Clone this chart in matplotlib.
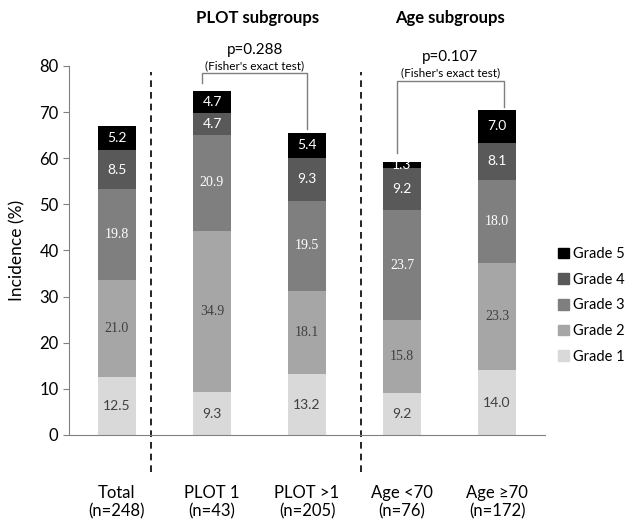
import numpy as np
import matplotlib
matplotlib.use("Agg")
import matplotlib.pyplot as plt
from matplotlib.patches import Patch

plt.rcParams['font.family'] = ['Lato', 'DejaVu Sans']

# incidence (%) by grade for each group
groups = ["Total\n(n=248)", "PLOT 1\n(n=43)", "PLOT >1\n(n=205)",
          "Age <70\n(n=76)", "Age \u226570\n(n=172)"]
grade1 = [12.5, 9.3, 13.2, 9.2, 14.0]
grade2 = [21.0, 34.9, 18.1, 15.8, 23.3]
grade3 = [19.8, 20.9, 19.5, 23.7, 18.0]
grade4 = [8.5, 4.7, 9.3, 9.2, 8.1]
grade5 = [5.2, 4.7, 5.4, 1.3, 7.0]

grade_names = ["Grade 1", "Grade 2", "Grade 3", "Grade 4", "Grade 5"]
colors = ["#d9d9d9", "#a6a6a6", "#7f7f7f", "#595959", "#000000"]
text_colors = ["#404040", "#404040", "white", "white", "white"]
label_fonts = ["Lato", "Liberation Serif", "Liberation Serif", "Lato", "Lato"]

fig = plt.figure(figsize=(6.29, 5.22), dpi=100)
ax = fig.add_axes([0.1097, 0.1667, 0.7568, 0.7069])

x = np.arange(len(groups))
bottom = np.zeros(len(groups))
for vals, name, c, tc, fnt in zip([grade1, grade2, grade3, grade4, grade5],
                                  grade_names, colors, text_colors, label_fonts):
    vals = np.array(vals)
    ax.bar(x, vals, width=0.4, bottom=bottom, color=c, linewidth=0, label=name)
    for xi, b, v in zip(x, bottom, vals):
        ax.text(xi, b + v / 2, f"{v:.1f}", ha="center", va="center",
                color=tc, fontsize=10, family=fnt)
    bottom += vals

ax.set_xlim(-0.505, 4.505)
ax.set_ylim(0, 80)
ax.set_yticks(range(0, 81, 10))
ax.set_xticks(x)
ax.set_xticklabels(groups, fontsize=12)
ax.tick_params(axis="x", length=0, pad=36)
ax.tick_params(axis="y", labelsize=12, length=4, color="#808080")
for s in ["top", "right"]:
    ax.spines[s].set_visible(False)
for s in ["left", "bottom"]:
    ax.spines[s].set_color("#808080")
ax.set_ylabel("Incidence (%)", fontsize=12.5, labelpad=10)

# group separators
for xv in [0.355, 2.565]:
    ax.plot([xv, xv], [-8, 78.7], ls=(0, (4, 3)), color="black",
            lw=1.2, clip_on=False)

# group headers
ax.text(1.48, 90.4, "PLOT subgroups", ha="center", va="center",
        fontsize=12, fontweight="bold")
ax.text(3.5, 90.4, "Age subgroups", ha="center", va="center",
        fontsize=12, fontweight="bold")

# significance brackets
def bracket(x0, x1, ytop, y0, y1, p, py):
    ax.plot([x0, x0, x1, x1], [y0, ytop, ytop, y1], color="#7f7f7f",
            lw=1, clip_on=False)
    ax.text((x0 + x1) / 2, py, p, ha="center", va="center", fontsize=11)
    ax.text((x0 + x1) / 2, py - 3.5, "(Fisher's exact test)", ha="center",
            va="center", fontsize=8.5)

bracket(0.9, 2.0, 78.5, 76.3, 66.3, "p=0.288", 83.5)
bracket(2.95, 4.07, 76.7, 61.1, 71.1, "p=0.107", 82.0)

handles = [Patch(color=c, label=n) for c, n in zip(colors, grade_names)][::-1]
fig.legend(handles=handles, loc="center left", bbox_to_anchor=(0.887, 0.415),
           frameon=False, fontsize=10.5, handlelength=0.75, handleheight=0.75,
           handletextpad=0.3, labelspacing=0.8, borderpad=0, borderaxespad=0)

fig.savefig("out.png", dpi=100)
